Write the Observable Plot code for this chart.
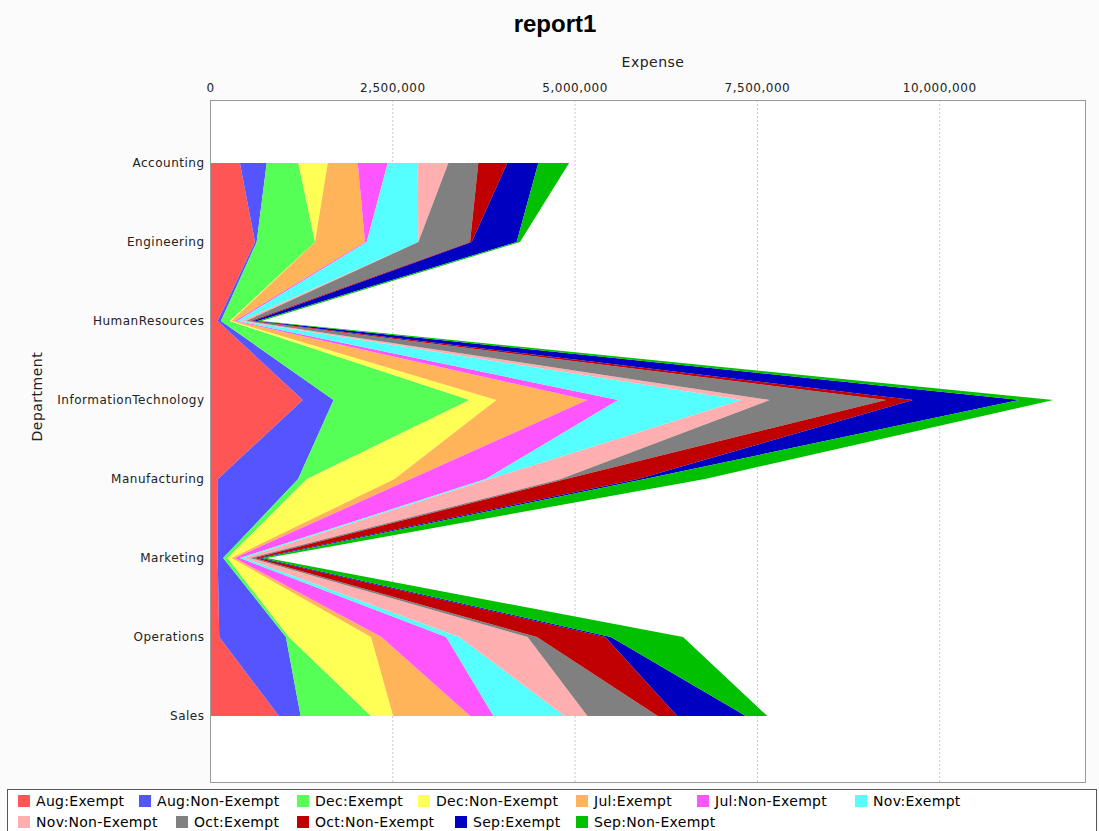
<!DOCTYPE html>
<html>
<head>
<meta charset="utf-8">
<script src="https://cdn.jsdelivr.net/npm/d3@7"></script>
<script src="https://cdn.jsdelivr.net/npm/@observablehq/plot@0.6"></script>
<style>
  html, body { margin: 0; padding: 0; background: #fbfbfb; }
  #wrap { position: relative; width: 1099px; height: 831px; overflow: hidden; }
  #title { position: absolute; top: 12px; left: 0; width: 1110px; text-align: center;
           font: bold 24px "Liberation Sans", Arial, sans-serif; line-height: 24px; color: #000; }
  #chart { position: absolute; top: 50px; left: 0; }
  #legend { position: absolute; left: 7px; top: 789px; width: 1090px; height: 60px; box-sizing: border-box;
            border: 1px solid #555; background: #fff; padding: 0 0 0 10px;
            display: flex; flex-wrap: wrap; align-content: flex-start;
            font: 14px "DejaVu Sans", sans-serif; letter-spacing: 0.3px; color: #000; }
  .item { display: flex; align-items: center; height: 21px; white-space: nowrap; flex: none; }
  .item.ex { width: 121px; }
  .item.nonex { width: 158px; }
  .sw { width: 12px; height: 12px; margin-right: 6px; flex: none; }
</style>
</head>
<body>
<div id="wrap">
  <div id="title">report1</div>
  <div id="chart"></div>
  <div id="legend"></div>
</div>
<script>
const departments = ["Accounting", "Engineering", "HumanResources", "InformationTechnology",
                     "Manufacturing", "Marketing", "Operations", "Sales"];
const seriesNames = ["Aug:Exempt", "Aug:Non-Exempt", "Dec:Exempt", "Dec:Non-Exempt",
                     "Jul:Exempt", "Jul:Non-Exempt", "Nov:Exempt", "Nov:Non-Exempt",
                     "Oct:Exempt", "Oct:Non-Exempt", "Sep:Exempt", "Sep:Non-Exempt"];
const colors = ["#ff5555", "#5555ff", "#55ff55", "#ffff55", "#ffb45a", "#ff55ff",
                "#55ffff", "#ffafaf", "#808080", "#c00000", "#0000c0", "#00c000"];
const xTicks = [0, 2500000, 5000000, 7500000, 10000000];

// values per series, in department order
const augExempt    = [410000, 617000, 105000, 1272000,  108000, 105000,  127000,  944000];
const augNonExempt = [368000,  23000,  45000,  423000, 1101000,  75000,  914000,  299000];
const decExempt    = [433000, 800000, 120000, 1863000,  122000,  60000,   41000,  964000];
const decNonExempt = [404000,      0,  25000,  369000, 1200000,  55000, 1126000,  305000];
const julExempt    = [411000, 686000,  45000, 1247000,  221000,  45000,  143000, 1056000];
const julNonExempt = [412000,  23000,  35000,  424000, 1029000,  70000,  888000,  320000];
const novExempt    = [411000, 708000,  55000, 1693000,   49000,  60000,  178000,  974000];
const novNonExempt = [420000,      0,  65000,  385000,  979000,  80000,  938000,  314000];
const octExempt    = [411000, 709000,  65000, 1594000,   73000,  60000,  128000,  964000];
const octNonExempt = [398000,  23000,  35000,  369000,  988000,  55000,  938000,  269000];
const sepExempt    = [425000, 617000,  60000, 1462000,   96000,  45000,   77000,  940000];
const sepNonExempt = [422000,  45000,  50000,  463000,  823000,  70000,  989000,  294000];

const seriesValues = [augExempt, augNonExempt, decExempt, decNonExempt, julExempt, julNonExempt,
                      novExempt, novNonExempt, octExempt, octNonExempt, sepExempt, sepNonExempt];

const rows = [];
seriesNames.forEach((s, i) => {
  departments.forEach((d, j) => rows.push({series: s, dept: d, value: seriesValues[i][j]}));
});

const chart = Plot.plot({
  width: 1099,
  height: 740,
  marginTop: 50,
  marginBottom: 8,
  marginLeft: 210,
  marginRight: 14,
  style: {fontFamily: "DejaVu Sans, sans-serif", fontSize: "12px", background: "transparent", letterSpacing: "0.5px", color: "#222"},
  x: {domain: [0, 12000000]},
  y: {type: "point", domain: departments, range: [113, 666], padding: 0},
  color: {domain: seriesNames, range: colors},
  marks: [
    Plot.frame({fill: "#fff", stroke: null}),
    Plot.gridX(xTicks.slice(1), {stroke: "#c8c8c8", strokeOpacity: 1, strokeDasharray: "2,2"}),
    Plot.areaX(rows, {y: "dept", x: "value", z: "series", fill: "series", curve: "linear"}),
    Plot.frame({stroke: "#9a9a9a"}),
    Plot.axisX({anchor: "top", ticks: xTicks, tickFormat: d3.format(","), tickSize: 0, tickPadding: 9, label: null, fill: "#222"}),
    Plot.axisY({anchor: "left", tickSize: 0, tickPadding: 6, label: null, fill: "#222"}),
    Plot.text(["Expense"], {frameAnchor: "top", dx: 5, dy: -43, text: d => d, fontSize: 14, fill: "#222"}),
    Plot.text(["Department"], {frameAnchor: "left", dx: -173, rotate: -90, text: d => d, fontSize: 14, fill: "#222"})
  ]
});
document.getElementById("chart").appendChild(chart);

const legend = document.getElementById("legend");
seriesNames.forEach((s, i) => {
  const item = document.createElement("div");
  item.className = "item " + (s.includes("Non") ? "nonex" : "ex");
  const sw = document.createElement("span");
  sw.className = "sw";
  sw.style.background = colors[i];
  const label = document.createElement("span");
  label.textContent = s;
  item.appendChild(sw);
  item.appendChild(label);
  legend.appendChild(item);
});
</script>
</body>
</html>
